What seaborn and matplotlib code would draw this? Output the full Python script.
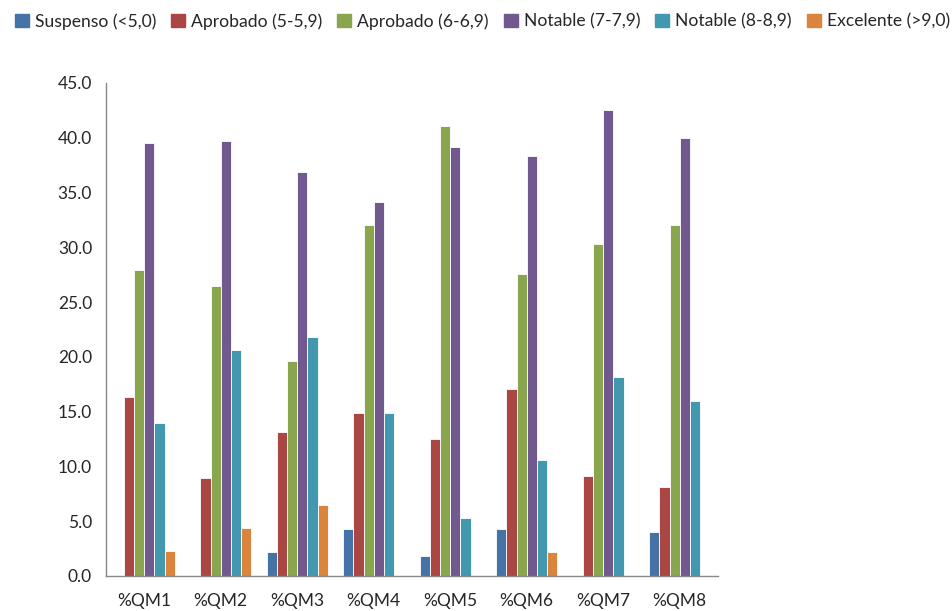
import numpy as np
import pandas as pd
from matplotlib import pyplot as plt
from matplotlib.ticker import FormatStrFormatter, FixedLocator
import seaborn as sns

groups = ['%QM1', '%QM2', '%QM3', '%QM4', '%QM5', '%QM6', '%QM7', '%QM8']
series = ['Suspenso (<5,0)', 'Aprobado (5-5,9)', 'Aprobado (6-6,9)',
          'Notable (7-7,9)', 'Notable (8-8,9)', 'Excelente (>9,0)']
suspenso = [0.0, 0.0, 2.2, 4.3, 1.8, 4.3, 0.0, 4.0]
aprobado5 = [16.3, 8.9, 13.1, 14.9, 12.5, 17.1, 9.1, 8.1]
aprobado6 = [27.9, 26.5, 19.6, 32.0, 41.1, 27.6, 30.3, 32.0]
notable7 = [39.5, 39.7, 36.9, 34.1, 39.2, 38.3, 42.5, 40.0]
notable8 = [14.0, 20.6, 21.8, 14.9, 5.3, 10.6, 18.2, 16.0]
excelente = [2.3, 4.4, 6.5, 0.0, 0.0, 2.2, 0.0, 0.0]
colors = ['#4572A7', '#AA4643', '#89A54E', '#71588F', '#4198AF', '#DB843D']

values = [suspenso, aprobado5, aprobado6, notable7, notable8, excelente]
df = pd.DataFrame({
    'grupo': groups * len(series),
    'serie': [s for s in series for _ in groups],
    'valor': [v for vals in values for v in vals],
})

sns.set_style('white')
plt.rcParams['font.family'] = ['Lato', 'DejaVu Sans']

fig = plt.figure(figsize=(9.53, 6.11), dpi=100)
ax = fig.add_axes([0.1112, 0.0573, 0.6422, 0.8069])

sns.barplot(data=df, x='grupo', y='valor', hue='serie', palette=colors,
            saturation=1, width=0.8, edgecolor='white', linewidth=0.6, ax=ax)

ax.set_ylim(0, 45)
ax.set_xlim(-0.5, 7.5)
ax.set_yticks(np.arange(0, 46, 5))
ax.yaxis.set_major_formatter(FormatStrFormatter('%.1f'))
ax.set_xlabel('')
ax.set_ylabel('')
ax.xaxis.set_minor_locator(FixedLocator(np.arange(-0.5, 8, 1)))
ax.tick_params(axis='x', which='major', length=0, labelsize=12.5, pad=12)
ax.tick_params(axis='x', which='minor', length=5, width=1, color='#888888', direction='out')
ax.tick_params(axis='y', length=5, width=1, color='#888888', direction='out', labelsize=12.5, pad=5)
sns.despine(ax=ax)
for s in ['left', 'bottom']:
    ax.spines[s].set_color('#888888')
    ax.spines[s].set_linewidth(1)

ax.legend_.remove()
handles = [plt.Rectangle((0, 0), 1, 1, color=c) for c in colors]
fig.legend(handles, series, loc='upper left', bbox_to_anchor=(0.008, 0.99), ncol=6,
           frameon=False, fontsize=12.6, handlelength=0.8, handleheight=0.8,
           handletextpad=0.35, columnspacing=0.85, borderaxespad=0)

fig.savefig('out.png', dpi=100)
